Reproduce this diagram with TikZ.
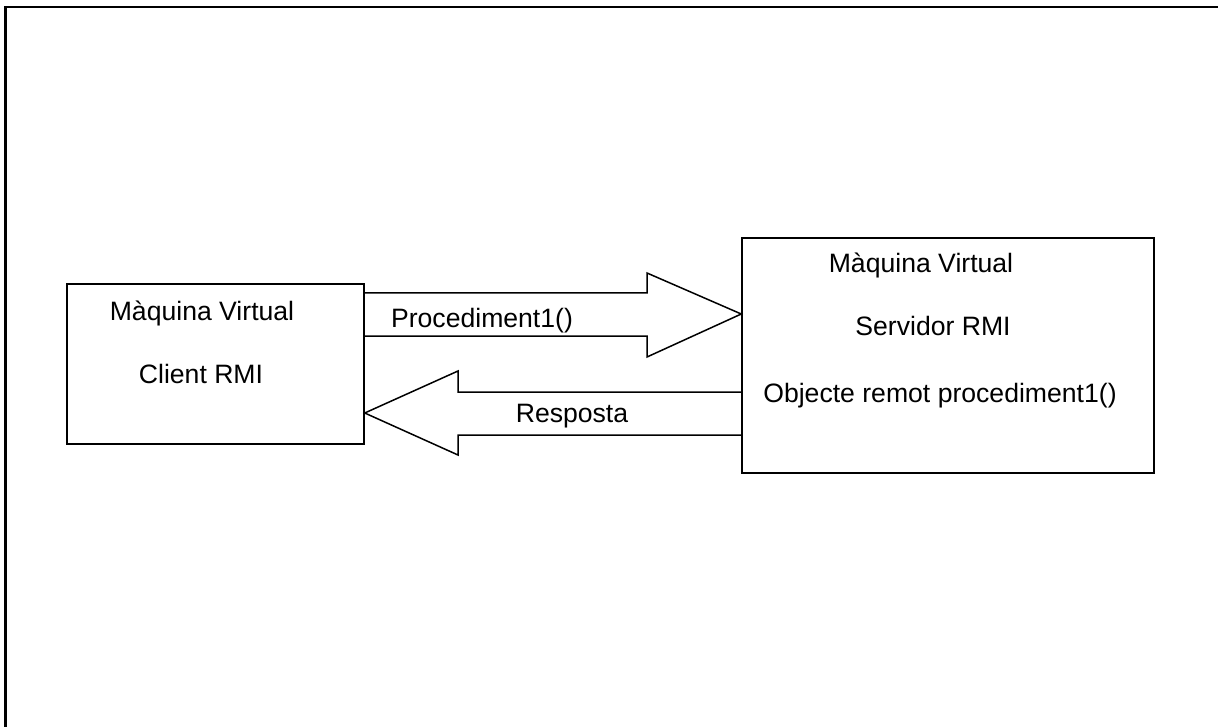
\documentclass[tikz,border=0pt]{standalone}
\usepackage{fontspec}
\setmainfont{Liberation Sans}
\begin{document}
\begin{tikzpicture}[x=1pt,y=-1pt,
  box/.style={draw, line width=1.5pt, inner sep=0pt},
  lbl/.style={font=\fontsize{26.6}{32}\selectfont, inner sep=0pt, anchor=base},
  arrowshape/.style={draw, line width=1.5pt, line join=miter}]
\useasboundingbox (0,0) rectangle (1218,727);
% outer frame (only top and left visible)
\draw[line width=2.4pt] (5.5,727) -- (5.5,7) -- (1218,7);
% boxes
\node[box, minimum width=297pt, minimum height=160pt] (client) at (215.5,364) {};
\node[box, minimum width=412pt, minimum height=235pt] (server) at (948,355.5) {};
% texts in boxes
\node[lbl] (c1) at (202,320) {Màquina Virtual};
\node[lbl] (c2) at (201,383) {Client RMI};
\node[lbl] (s1) at (921,273) {Màquina Virtual};
\node[lbl] (s2) at (933,335) {Servidor RMI};
\node[lbl] (s3) at (940,402) {Objecte remot procediment1()};
% request arrow
\draw[arrowshape] (client.east |- 0,293) -- (647,293) -- (647,273)
  -- (server.west |- 0,314) -- (647,357) -- (647,336) -- (client.east |- 0,336);
\node[lbl] (req) at (482,327) {Procediment1()};
% response arrow
\draw[arrowshape] (server.west |- 0,392) -- (458,392) -- (458,371)
  -- (client.east |- 0,413) -- (458,455) -- (458,435) -- (server.west |- 0,435);
\node[lbl] (resp) at (572,422) {Resposta};
\end{tikzpicture}
\end{document}
